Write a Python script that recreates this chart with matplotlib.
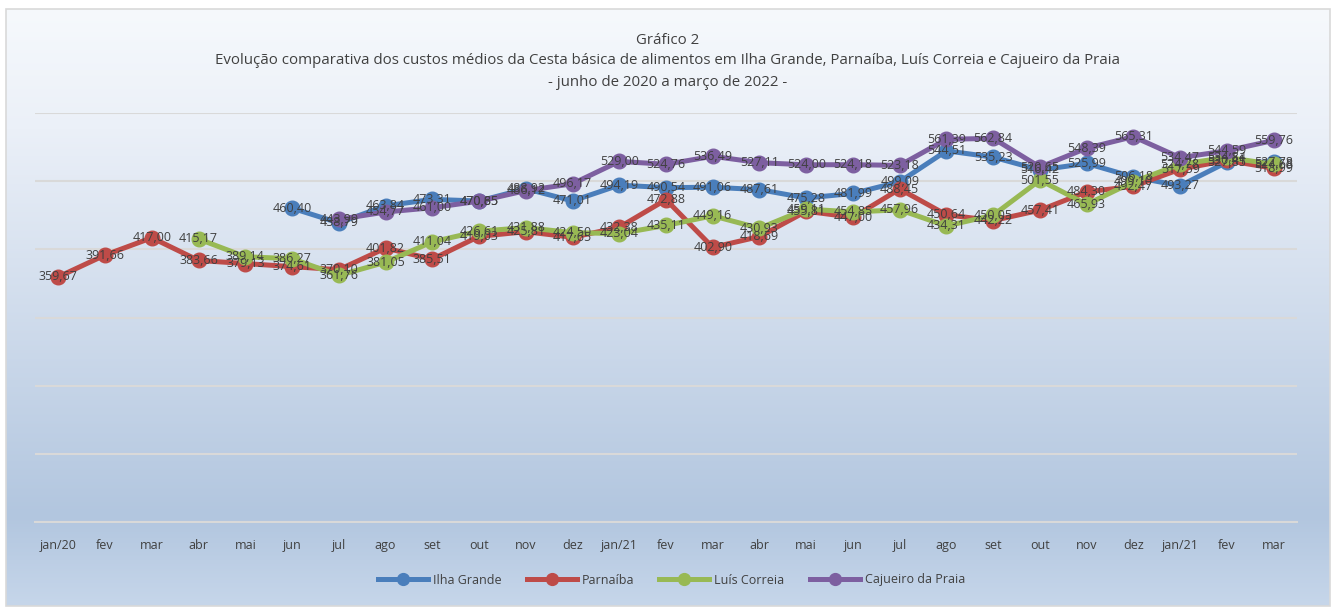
import numpy as np
import matplotlib
matplotlib.use("Agg")
import matplotlib.pyplot as plt
from matplotlib.colors import LinearSegmentedColormap
from matplotlib.lines import Line2D
from matplotlib.patches import Rectangle

plt.rcParams['font.family'] = ['Open Sans', 'DejaVu Sans']

months = ["jan/20", "fev", "mar", "abr", "mai", "jun", "jul", "ago", "set", "out", "nov", "dez",
          "jan/21", "fev", "mar", "abr", "mai", "jun", "jul", "ago", "set", "out", "nov", "dez",
          "jan/21", "fev", "mar"]

N = np.nan
ilha_grande = [N, N, N, N, N, 460.40, 438.79, 463.84, 473.31, 470.85, 488.92, 471.01,
               494.19, 490.54, 491.06, 487.61, 475.28, 481.99, 499.09, 544.51, 535.23, 516.42,
               525.99, 506.18, 493.27, 527.85, 527.78]
parnaiba = [359.67, 391.66, 417.00, 383.66, 379.13, 374.61, 370.10, 401.82, 385.51, 419.03, 425.81, 417.65,
            432.38, 472.88, 402.90, 418.69, 455.81, 447.00, 488.45, 450.64, 442.22, 457.41,
            484.30, 492.47, 517.59, 530.41, 518.99]
luis_correia = [N, N, N, 415.17, 389.14, 386.27, 361.76, 381.05, 411.04, 426.61, 431.88, 424.50,
                423.04, 435.11, 449.16, 430.93, 459.11, 454.85, 457.96, 434.31, 450.05, 501.55,
                465.93, 499.10, 524.78, 534.84, 524.68]
cajueiro = [N, N, N, N, N, N, 443.99, 454.77, 461.00, 470.65, 486.12, 496.17,
            529.00, 524.76, 536.49, 527.11, 524.00, 524.18, 523.18, 561.39, 562.84, 520.65,
            548.39, 565.31, 534.47, 544.59, 559.76]

series_names = ["Ilha Grande", "Parnaíba", "Luís Correia", "Cajueiro da Praia"]
series_vals = [ilha_grande, parnaiba, luis_correia, cajueiro]
colors = ["#4a7ebb", "#be4b48", "#98b954", "#7d5fa0"]

W, H = 1335, 610
fig = plt.figure(figsize=(W / 100, H / 100), dpi=100)
fig.patch.set_facecolor("white")

# background gradient panel
bg = fig.add_axes([0, 0, 1, 1], zorder=-10)
bg.set_xlim(0, W)
bg.set_ylim(H, 0)
bg.axis("off")
cmap = LinearSegmentedColormap.from_list("g", [(0, "#f6f9fc"), (0.2, "#ebf0f8"), (0.85, "#b2c6df"), (1.0, "#c6d6ea")])
grad = np.linspace(0, 1, 256).reshape(-1, 1)
bg.imshow(grad, cmap=cmap, aspect="auto", extent=(6, 1330, 606, 9), zorder=0)
bg.add_patch(Rectangle((6, 9), 1324, 597, fill=False, edgecolor="#d9d9d9", lw=1.2, zorder=2))

ax = fig.add_axes([35 / W, (H - 522) / H, (1297 - 35) / W, (522 - 113) / H])
ax.set_facecolor("none")
x = np.arange(len(months))
ax.set_xlim(-0.5, len(months) - 0.5)
ax.set_ylim(0, 600)
ax.set_yticks(np.arange(0, 601, 100))
ax.yaxis.grid(True, color="#d9d9d9", lw=1.5)
ax.set_axisbelow(True)
ax.tick_params(axis="y", left=False, labelleft=False)
ax.tick_params(axis="x", length=0, pad=12, labelsize=9, labelcolor="#404040")
ax.set_xticks(x)
ax.set_xticklabels(months)
for s in ["top", "right", "left"]:
    ax.spines[s].set_visible(False)
ax.spines["bottom"].set_color("#d9d9d9")
ax.spines["bottom"].set_linewidth(1.5)

for name, vals, c in zip(series_names, series_vals, colors):
    v = np.array(vals, dtype=float)
    ax.plot(x, v, color=c, lw=3.6, marker="o", ms=10.5, mfc=c, mec=c, zorder=3, solid_capstyle="round")

for name, vals, c in zip(series_names, series_vals, colors):
    for xi, vi in zip(x, vals):
        if np.isnan(vi):
            continue
        ax.text(xi, vi, f"{vi:.2f}".replace(".", ","), ha="center", va="center",
                fontsize=9, color="#404040", zorder=5)

fig.text(0.5, (H - 40) / H, "Gráfico 2", ha="center", va="center", fontsize=10.8, color="#404040")
fig.text(0.5, (H - 61) / H,
         "Evolução comparativa dos custos médios da Cesta básica de alimentos em Ilha Grande, Parnaíba, Luís Correia e Cajueiro da Praia",
         ha="center", va="center", fontsize=10.8, color="#404040")
fig.text(0.5, (H - 82) / H, "- junho de 2020 a março de 2022 -", ha="center", va="center", fontsize=10.8, color="#404040")

handles = [Line2D([0], [0], color=c, lw=3.6, marker="o", ms=8.5) for c in colors]
fig.legend(handles, series_names, loc="center", bbox_to_anchor=(0.503, (H - 580) / H), ncol=4,
           frameon=False, fontsize=9, labelcolor="#404040", handlelength=4, columnspacing=2.0, handletextpad=0.4)

fig.savefig("out.png", dpi=100)
